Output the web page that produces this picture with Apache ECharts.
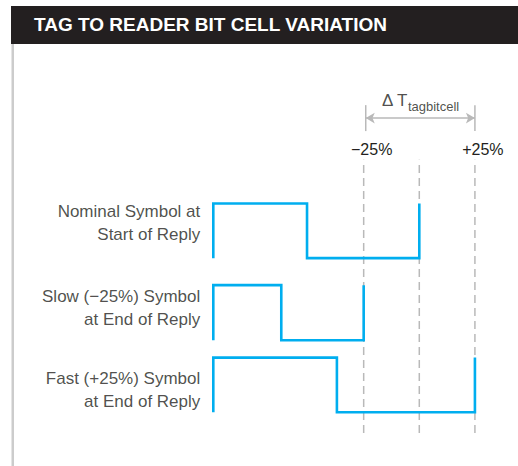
<!DOCTYPE html>
<html>
<head>
<meta charset="utf-8">
<script src="https://cdn.jsdelivr.net/npm/echarts@6/dist/echarts.min.js"></script>
<style>
  html, body { margin: 0; padding: 0; background: #ffffff; }
  #chart { width: 518px; height: 466px; }
</style>
</head>
<body>
<div id="chart"></div>
<script>
// ---- Data (time in nominal bit-cell units, levels in arbitrary signal units) ----
const titleText = 'TAG TO READER BIT CELL VARIATION';
const rowLabels = ['Nominal Symbol at\nStart of Reply', 'Slow (\u221225%) Symbol\nat End of Reply', 'Fast (+25%) Symbol\nat End of Reply'];
const nominalEdges = [0, 0.455, 1.0];
const slowEdges = [0, 0.33, 0.73];
const fastEdges = [0, 0.60, 1.27];
const rowHigh = [4.30, 2.79, 1.45];
const rowLow = [3.29, 1.77, 0.44];
const rowLabelY = [3.94, 2.37, 0.845];
const markerX = [0.73, 1.0, 1.27];
const markerLabels = ['\u221225%', '', '+25%'];
const markerRange = [0.055, 5.11];
const spanX = [0.74, 1.27];
const spanY = 5.88;
const spanTickRange = [5.64, 6.12];
const spanLabelMain = '\u0394 T';
const spanLabelSub = 'tagbitcell';

const FONT = 'Liberation Sans';
const TEXT = '#231f20';
const WAVE = '#00aeef';
const GRAY = '#b9b9b9';

function wave(edges, hi, lo) {
  const pts = [[edges[0], lo], [edges[0], hi]];
  let level = hi;
  for (let i = 1; i < edges.length; i++) {
    pts.push([edges[i], level]);
    level = (level === hi) ? lo : hi;
    pts.push([edges[i], level]);
  }
  return pts;
}

const waves = [nominalEdges, slowEdges, fastEdges];
const series = [];

// dashed reference lines
markerX.forEach(function (x, i) {
  series.push({
    type: 'line',
    silent: true,
    clip: false,
    symbol: 'none',
    data: [[x, markerRange[0]], [x, markerRange[1]]],
    lineStyle: { color: GRAY, width: 1.5, type: [8, 5] },
    label: { show: false },
    endLabel: {
      show: markerLabels[i] !== '',
      formatter: markerLabels[i],
      color: TEXT, fontFamily: FONT, fontSize: 16,
      align: 'center', verticalAlign: 'bottom',
      offset: [0, -2]
    },
    z: 1
  });
});

// span ticks
spanX.forEach(function (x) {
  series.push({
    type: 'line', silent: true, clip: false, symbol: 'none',
    data: [[x, spanTickRange[0]], [x, spanTickRange[1]]],
    lineStyle: { color: GRAY, width: 1.5 },
    z: 1
  });
});

// span arrow
series.push({
  type: 'line', silent: true, clip: false, symbol: 'none',
  data: [],
  markLine: {
    silent: true,
    symbol: ['arrow', 'arrow'],
    symbolSize: [8, 9],
    label: { show: false },
    lineStyle: { color: GRAY, width: 1.5, type: 'solid' },
    data: [[{ coord: [spanX[0], spanY] }, { coord: [spanX[1], spanY] }]]
  }
});

// span label
series.push({
  type: 'scatter', silent: true, symbolSize: 0,
  data: [[(spanX[0] + spanX[1]) / 2, spanY]],
  label: {
    show: true, position: 'top', distance: 5,
    formatter: '{d|' + spanLabelMain + '}{s|' + spanLabelSub + '}',
    rich: {
      d: { fontFamily: FONT, fontSize: 17, color: TEXT, verticalAlign: 'bottom', padding: [0, 0, 4, 0] },
      s: { fontFamily: FONT, fontSize: 13, color: TEXT, verticalAlign: 'bottom', padding: [0, 0, 0, 0] }
    }
  }
});

// waveforms
waves.forEach(function (edges, i) {
  series.push({
    type: 'line', silent: true, clip: false, symbol: 'none',
    data: wave(edges, rowHigh[i], rowLow[i]),
    lineStyle: { color: WAVE, width: 2.6, join: 'miter', cap: 'butt' },
    z: 3
  });
});

// row labels
series.push({
  type: 'scatter', silent: true, symbolSize: 0,
  data: rowLabels.map(function (t, i) { return [0, rowLabelY[i], t]; }),
  label: {
    show: true, position: 'left', distance: 13,
    formatter: function (p) { return p.data[2]; },
    fontFamily: FONT, fontSize: 17, color: TEXT, lineHeight: 23, align: 'right'
  }
});

const chart = echarts.init(document.getElementById('chart'), null, { renderer: 'svg' });
chart.setOption({
  animation: false,
  backgroundColor: '#ffffff',
  title: {
    text: titleText, left: 34, top: 15, padding: 0,
    textStyle: { color: '#ffffff', fontSize: 19, fontWeight: 'bold', fontFamily: FONT }
  },
  graphic: [
    { type: 'rect', z: -10, shape: { x: 11, y: 6, width: 507, height: 38 }, style: { fill: '#231f20' } },
    { type: 'rect', z: -10, shape: { x: 11.5, y: 44, width: 2.5, height: 422 }, style: { fill: '#cccccc' } }
  ],
  grid: { left: 213.3, width: 267.8, top: 90, bottom: 30 },
  xAxis: { type: 'value', min: 0, max: 1.3, show: false },
  yAxis: { type: 'value', min: 0, max: 6.4, show: false },
  series: series
});
</script>
</body>
</html>
